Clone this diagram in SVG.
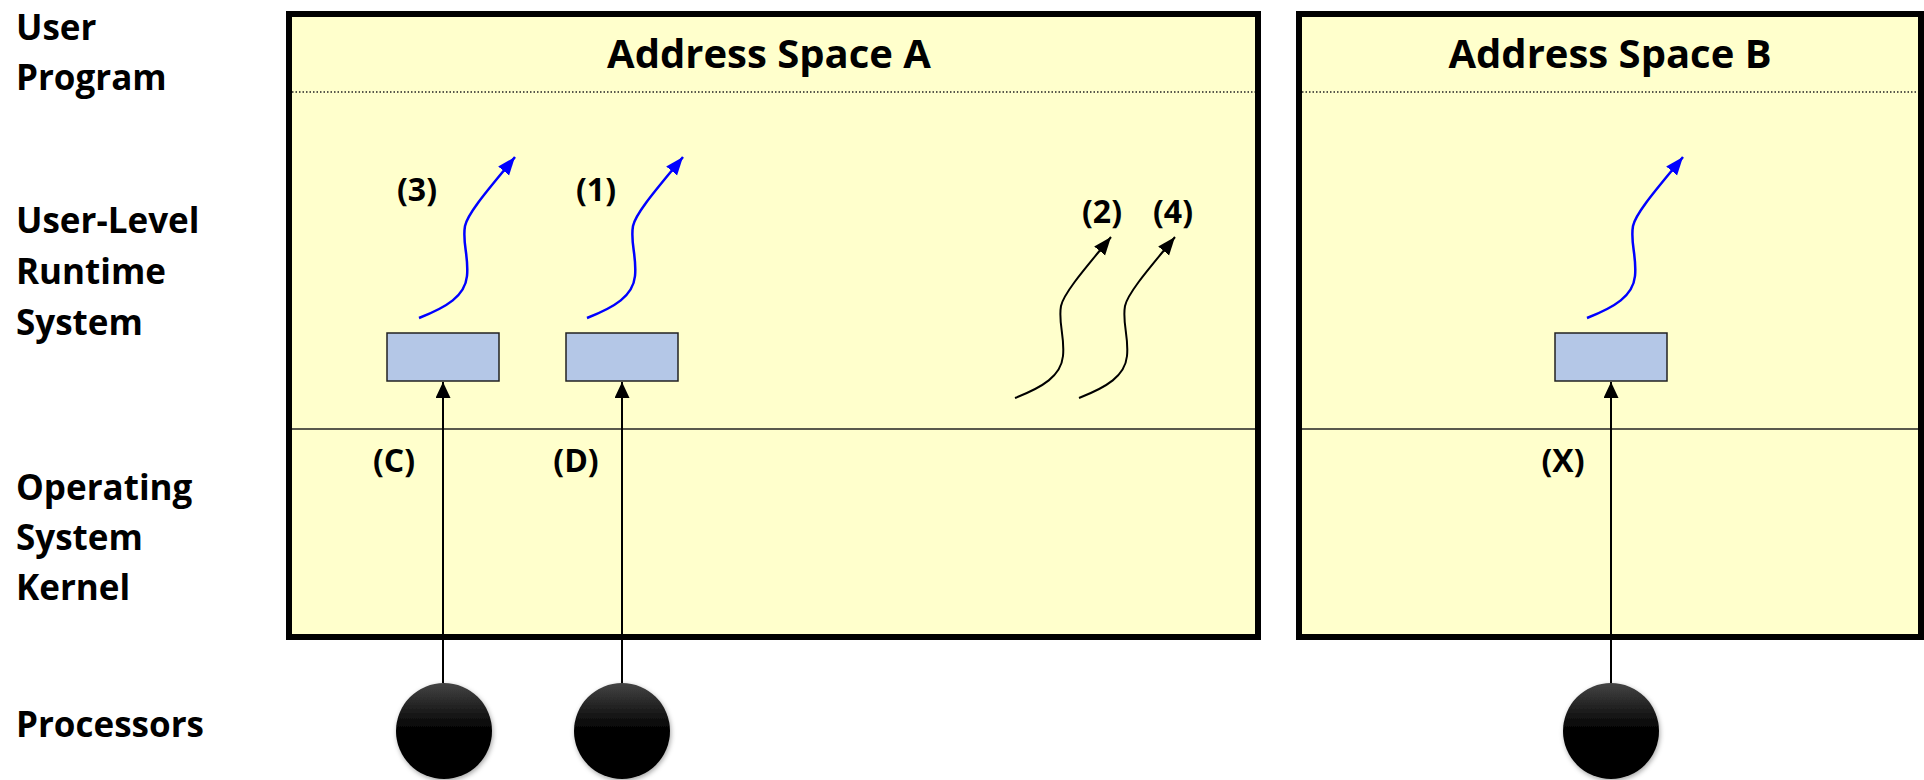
<svg xmlns="http://www.w3.org/2000/svg" width="1924" height="780" viewBox="0 0 1924 780">
<style>
text{font-family:"Open Sans","Noto Sans","Liberation Sans",sans-serif;font-weight:700;fill:#000}
.side{font-size:35px}
.title{font-size:40px;text-anchor:middle}
.lbl{font-size:32px;text-anchor:middle}
.space{fill:#FFFFCC;stroke:#000;stroke-width:6}
.dots{stroke:#222;stroke-width:1.5;stroke-dasharray:1.5 2}
.sep{stroke:#222;stroke-width:1.5}
.kt{fill:#B4C7E7;stroke:#222;stroke-width:1.5}
.blue{fill:none;stroke:#0000FF;stroke-width:2.5;marker-end:url(#hb)}
.black{fill:none;stroke:#000;stroke-width:2;marker-end:url(#hk)}
.up{stroke:#000;stroke-width:2;marker-end:url(#hu)}
.cpu{fill:url(#g);filter:url(#sh)}
</style>
<defs>
<marker id="hb" markerUnits="userSpaceOnUse" markerWidth="20" markerHeight="16" refX="18" refY="7" orient="auto"><path d="M0,0 L18,7 L0,14 z" fill="#0000FF"/></marker>
<marker id="hk" markerUnits="userSpaceOnUse" markerWidth="20" markerHeight="16" refX="18" refY="7" orient="auto"><path d="M0,0 L18,7 L0,14 z" fill="#000"/></marker>
<marker id="hu" markerUnits="userSpaceOnUse" markerWidth="18" markerHeight="16" refX="16" refY="7.5" orient="auto"><path d="M0,0 L16,7.5 L0,15 z" fill="#000"/></marker>
<linearGradient id="g" x1="0" y1="0" x2="0" y2="1"><stop offset="0" stop-color="#444"/><stop offset="0.5" stop-color="#000"/><stop offset="1" stop-color="#000"/></linearGradient>
<filter id="sh" x="-30%" y="-30%" width="160%" height="160%"><feDropShadow dx="1" dy="2" stdDeviation="2.5" flood-color="#000" flood-opacity="0.35"/></filter>
</defs>

<g id="side-labels">
<text class="side" x="16" y="40">User</text>
<text class="side" x="16" y="90">Program</text>
<text class="side" x="16" y="233">User-Level</text>
<text class="side" x="16" y="284">Runtime</text>
<text class="side" x="16" y="335">System</text>
<text class="side" x="16" y="500">Operating</text>
<text class="side" x="16" y="550">System</text>
<text class="side" x="16" y="600">Kernel</text>
<text class="side" x="16" y="737">Processors</text>
</g>

<g id="address-space-a">
<rect class="space" x="289" y="14" width="969" height="623"/>
<line class="dots" x1="292" y1="92" x2="1255" y2="92"/>
<line class="sep" x1="292" y1="429" x2="1255" y2="429"/>
<text class="title" x="769" y="68">Address Space A</text>
</g>

<g id="address-space-b">
<rect class="space" x="1299" y="14" width="622" height="623"/>
<line class="dots" x1="1302" y1="92" x2="1918" y2="92"/>
<line class="sep" x1="1302" y1="429" x2="1918" y2="429"/>
<text class="title" x="1610" y="68">Address Space B</text>
</g>

<g id="kt-c"><rect class="kt" x="387" y="333" width="112" height="48"/><text class="lbl" x="394" y="472">(C)</text></g>
<g id="kt-d"><rect class="kt" x="566" y="333" width="112" height="48"/><text class="lbl" x="576" y="472">(D)</text></g>
<g id="kt-x"><rect class="kt" x="1555" y="333" width="112" height="48"/><text class="lbl" x="1563" y="472">(X)</text></g>

<g id="thread-labels">
<text class="lbl" x="417" y="201">(3)</text>
<text class="lbl" x="596" y="201">(1)</text>
<text class="lbl" x="1102" y="223">(2)</text>
<text class="lbl" x="1173" y="223">(4)</text>
</g>

<g id="cpu-1"><circle class="cpu" cx="444" cy="731" r="48"/></g>
<g id="cpu-2"><circle class="cpu" cx="622" cy="731" r="48"/></g>
<g id="cpu-3"><circle class="cpu" cx="1611" cy="731" r="48"/></g>

<g id="connectors">
<line class="up" x1="443" y1="683" x2="443" y2="382"/>
<line class="up" x1="622" y1="683" x2="622" y2="382"/>
<line class="up" x1="1611" y1="683" x2="1611" y2="382"/>
<path class="blue" transform="translate(419,318)" d="M0,0 C28,-11 46,-22 48,-42 C50,-62 43,-75 46,-92 C49,-106 74,-134 96,-161"/>
<path class="blue" transform="translate(587,318)" d="M0,0 C28,-11 46,-22 48,-42 C50,-62 43,-75 46,-92 C49,-106 74,-134 96,-161"/>
<path class="blue" transform="translate(1587,318)" d="M0,0 C28,-11 46,-22 48,-42 C50,-62 43,-75 46,-92 C49,-106 74,-134 96,-161"/>
<path class="black" transform="translate(1015,398)" d="M0,0 C28,-11 46,-22 48,-42 C50,-62 43,-75 46,-92 C49,-106 74,-134 96,-161"/>
<path class="black" transform="translate(1079,398)" d="M0,0 C28,-11 46,-22 48,-42 C50,-62 43,-75 46,-92 C49,-106 74,-134 96,-161"/>
</g>
</svg>
